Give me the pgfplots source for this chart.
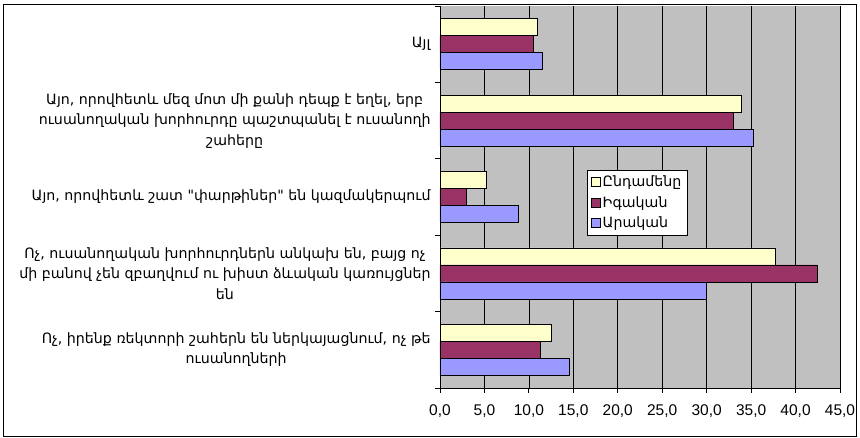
\documentclass[border=0pt]{standalone}
\usepackage{fontspec}
\setmainfont{DejaVu Sans}[Ligatures=TeXOff]
\newfontfamily\numfont{Liberation Sans}
\usepackage{pgfplots}
\pgfplotsset{compat=1.18}
\usepackage{pgfplotstable}

\definecolor{cTot}{HTML}{FFFFCC}
\definecolor{cFem}{HTML}{993366}
\definecolor{cMale}{HTML}{9999FF}
\definecolor{plotbg}{HTML}{C0C0C0}

% y: category position (4 = top)
\pgfplotstableread{
y tot fem male
4 10.9 10.5 11.5
3 33.9 33.0 35.2
2 5.2 3.0 8.8
1 37.7 42.4 29.9
0 12.5 11.3 14.5
}\answers

\pgfplotsset{sq/.style={legend image code/.code={\draw[##1, draw=black, line width=0.5pt] (0pt,-4.5pt) rectangle (9pt,4.5pt);}}}

\begin{document}
\begin{tikzpicture}
\useasboundingbox (-440pt,-50pt) rectangle (420pt,388pt);
\draw[black, line width=0.9pt] (-437pt,-48pt) rectangle (416.5pt,383.5pt);
\begin{axis}[
  at={(0pt,0pt)}, anchor=south west,
  scale only axis, width=400pt, height=382pt,
  xbar, bar width=17pt,
  xmin=0, xmax=45, ymin=-0.5, ymax=4.5,
  axis background/.style={fill=plotbg},
  axis x line*=bottom, axis y line*=left,
  axis line style={black, line width=0.8pt},
  tick align=outside, major tick length=5pt,
  tick style={black, line width=0.8pt},
  xtick={0,5,...,45}, xmajorgrids,
  grid style={black, line width=0.7pt},
  ytick={-0.5,0.5,1.5,2.5,3.5,4.5}, yticklabels={},
  extra y ticks={0,1,2,3,4},
  extra y tick style={major tick length=0pt, grid=none},
  extra y tick labels={
    {Ոչ, իրենք ռեկտորի շահերն են ներկայացնում, ոչ թե\\ուսանողների},
    {Ոչ, ուսանողական խորհուրդներն անկախ են, բայց ոչ\\մի բանով չեն զբաղվում ու խիստ ձևական կառույցներ\\են},
    {Այո, որովհետև շատ "փարթիներ" են կազմակերպում},
    {Այո, որովհետև մեզ մոտ մի քանի դեպք է եղել, երբ\\ուսանողական խորհուրդը պաշտպանել է ուսանողի\\շահերը},
    {Այլ}},
  yticklabel style={align=center, font=\fontsize{14.2}{20.5}\selectfont, xshift=-6pt},
  xticklabel style={font=\numfont\fontsize{15.5}{18}\selectfont, yshift=-8pt},
  /pgf/number format/assume math mode=true,
  /pgf/number format/.cd, use comma, fixed, fixed zerofill, precision=1, /pgfplots/.cd,
  legend style={at={(axis description cs:0.3675,0.571)}, anchor=north west,
    draw=black, fill=white, font=\fontsize{14.2}{17}\selectfont,
    row sep=4pt, inner sep=4pt, cells={anchor=west}},
]
\addplot[sq, fill=cTot, draw=black, line width=0.5pt, bar shift=17pt] table[x=tot, y=y] {\answers};
\addlegendentry{Ընդամենը}
\addplot[sq, fill=cFem, draw=black, line width=0.5pt, bar shift=0pt] table[x=fem, y=y] {\answers};
\addlegendentry{Իգական}
\addplot[sq, fill=cMale, draw=black, line width=0.5pt, bar shift=-17pt] table[x=male, y=y] {\answers};
\addlegendentry{Արական}
\end{axis}
\end{tikzpicture}
\end{document}
